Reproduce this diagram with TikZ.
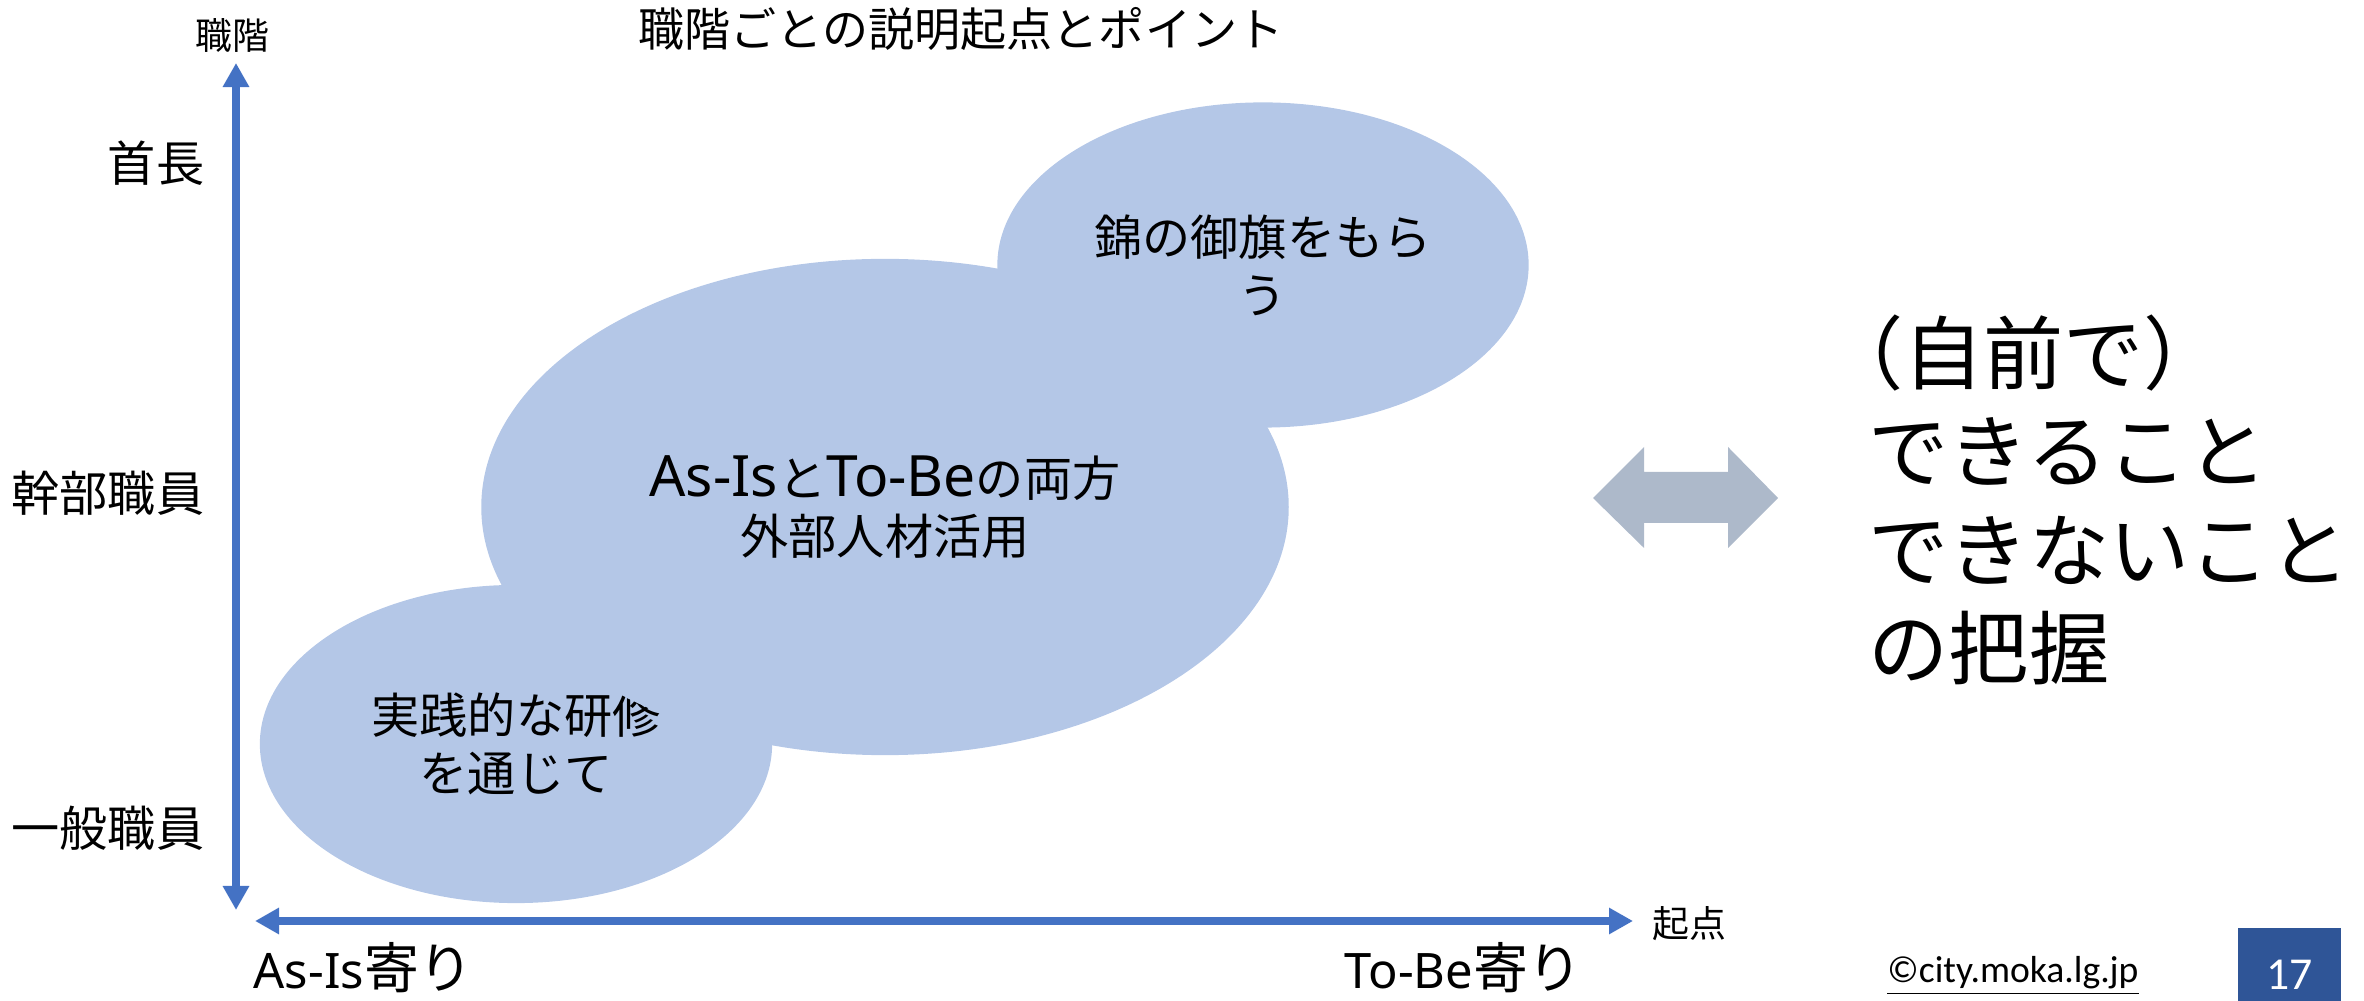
\documentclass[tikz,border=0pt]{standalone}
\usepackage{fontspec}
\setmainfont{Noto Sans CJK JP}
\newfontfamily\calibrifont{Carlito}
\newfontfamily\latinfont{Noto Sans}
\newcommand\wideword[2]{{\fontsize{#1}{#1}\latinfont #2}}
\usetikzlibrary{arrows.meta,shapes.geometric}
\definecolor{axisblue}{HTML}{4472C4}
\definecolor{blobblue}{HTML}{B4C7E7}
\definecolor{arrowgray}{HTML}{ADB9CA}
\definecolor{pagenavy}{HTML}{2F5597}

\begin{document}
\begin{tikzpicture}[x=0.01cm, y=-0.01cm]
      % Define styles
      \tikzset{
        blob/.style={ellipse, fill=blobblue, inner sep=0pt, align=center, font=\fontsize{13.7pt}{16.5pt}\selectfont},
        axis/.style={axisblue, line width=0.08cm, {Triangle[length=0.24cm, width=0.25cm]}-{Triangle[length=0.24cm, width=0.25cm]}},
        level/.style={anchor=east, inner sep=0pt, font=\fontsize{13.7pt}{16.5pt}\selectfont},
        axislabel/.style={font=\fontsize{10.5pt}{12pt}\selectfont},
        endlabel/.style={anchor=base west, inner sep=0pt, font=\fontsize{15.6pt}{18pt}\selectfont},
        label/.style={font=\fontsize{13.1pt}{15pt}\selectfont}
      }
      \useasboundingbox (0,0) rectangle (2364,1001);
      % Overlapping ellipses
      \node[blob, minimum width=5.12cm, minimum height=3.18cm] (training) at (516,744) {実践的な研修\\を通じて};
      \node[blob, minimum width=8.07cm, minimum height=4.96cm] (both) at (885,507) {\wideword{16.2pt}{As-Is}と\wideword{16.2pt}{To-Be}の両方\\外部人材活用};
      \node[blob, minimum width=5.31cm, minimum height=3.25cm] (banner) at (1263,265) {錦の御旗をもら\\う};
      % Axes
      \coordinate (ytop) at (236,63);
      \coordinate (ybot) at (236,910);
      \coordinate (xleft) at (255,921);
      \coordinate (xright) at (1633,921);
      \draw[axis] (ybot) -- (ytop);
      \draw[axis] (xleft) -- (xright);
      \node[axislabel] (rank) at (232,35) {職階};
      \node[axislabel] (origin) at (1689,924) {起点};
      % Levels and ends
      \node[level] (chief) at (205,163) {首長};
      \node[level] (manager) at (205,493) {幹部職員};
      \node[level] (staff) at (205,828) {一般職員};
      \node[endlabel] (asis) at (253,988) {\wideword{13.9pt}{As-Is}寄り};
      \node[endlabel] (tobe) at (1344,988) {\wideword{13.9pt}{To-Be}寄り};
      \node[label] (title) at (961,29) {職階ごとの説明起点とポイント};
      % Block arrow and conclusion
      \fill[arrowgray] (1593,498) -- (1644,447) -- (1644,472) -- (1728,472) -- (1728,447)
        -- (1778,498) -- (1728,548) -- (1728,523) -- (1644,523) -- (1644,548) -- cycle;
      \node[anchor=west, align=left, inner sep=0pt, font=\fontsize{22.8pt}{28pt}\selectfont] (grasp) at (1868,500)
        {\hspace*{-0.57em}（自前で）\\できること\\できないこと\\の把握};
      % Footer
      \node[font=\calibrifont\fontsize{10.7pt}{12pt}\selectfont] (credit) at (2013,976) {\underline{©city.moka.lg.jp}};
      \node[fill=pagenavy, minimum width=1.03cm, minimum height=0.73cm, inner sep=0pt] (pgbox) at (2289.5,964.5) {};
      \node[white, font=\calibrifont\fontsize{13pt}{14pt}\selectfont] (pgnum) at ([yshift=-0.1cm]pgbox.center) {17};
    \end{tikzpicture}
\end{document}
